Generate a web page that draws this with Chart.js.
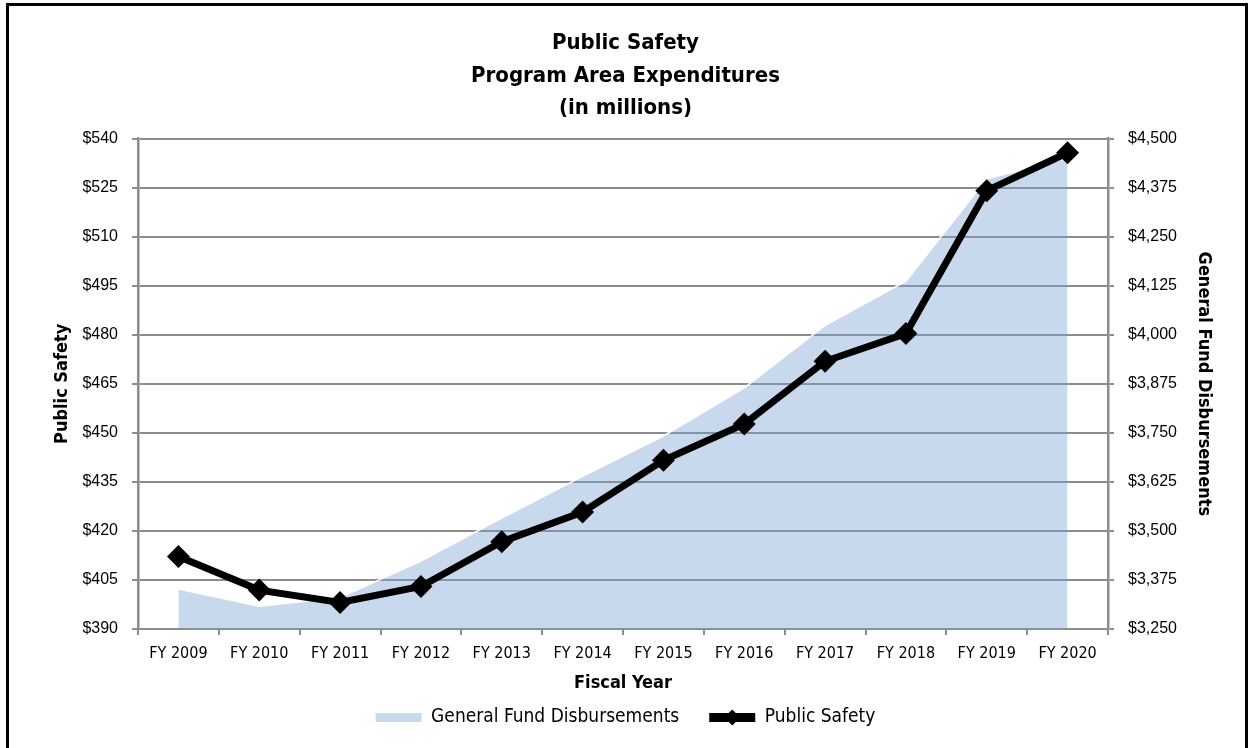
<!DOCTYPE html>
<html>
<head>
<meta charset="utf-8">
<script src="https://cdn.jsdelivr.net/npm/chart.js@4.4.1/dist/chart.umd.min.js"></script>
<style>
  html, body { margin: 0; padding: 0; background: #fff; overflow: hidden; }
  #wrap { position: relative; width: 1251px; height: 748px; }
  #frame {
    position: absolute; left: 6px; top: 3px; width: 1236px; height: 800px;
    border: 3px solid #000; pointer-events: none;
  }
</style>
</head>
<body>
<div id="wrap">
  <canvas id="psChart" width="1251" height="748"></canvas>
  <div id="frame"></div>
</div>
<script>
// ===== Data =====

const fiscalYears = ["FY 2009", "FY 2010", "FY 2011", "FY 2012", "FY 2013", "FY 2014",
                     "FY 2015", "FY 2016", "FY 2017", "FY 2018", "FY 2019", "FY 2020"];

// General Fund Disbursements, $ millions (right axis)
const generalFund = [3352, 3308, 3330, 3423, 3533, 3639, 3742, 3865, 4024, 4137, 4398, 4450];

// Public Safety, $ millions (left axis)
const publicSafety = [412.2, 401.9, 398.1, 403.0, 416.7, 425.8, 441.6, 452.7, 471.9, 480.4, 524.1, 535.7];

const titleLines = ["Public Safety", "Program Area Expenditures", "(in millions)"];

const narrow = "'Liberation Sans Narrow', 'Arial Narrow', 'DejaVu Sans Condensed', sans-serif";
const regular = "'Liberation Sans', Arial, sans-serif";
const gridGray = "#8c8c8c";
const areaFill = "rgba(120,160,210,0.40)";


// ===== Diamond on legend line =====

const legendDiamond = {
  id: "legendDiamond",
  afterDraw(chart) {
    const legend = chart.legend;
    if (!legend || !legend.legendHitBoxes) return;
    const ctx = chart.ctx;
    const boxW = legend.options.labels.boxWidth;
    legend.legendItems.forEach((item, i) => {
      if (item.datasetIndex !== 1) return;
      const hb = legend.legendHitBoxes[i];
      const cx = hb.left + boxW / 2;
      const cy = hb.top + hb.height / 2;
      ctx.save();
      ctx.fillStyle = "#000";
      ctx.beginPath();
      ctx.moveTo(cx, cy - 8);
      ctx.lineTo(cx + 8, cy);
      ctx.lineTo(cx, cy + 8);
      ctx.lineTo(cx - 8, cy);
      ctx.closePath();
      ctx.fill();
      ctx.restore();
    });
  }
};


// ===== Chart =====

const ctx = document.getElementById("psChart");

new Chart(ctx, {
  type: "line",
  data: {
    labels: fiscalYears,
    datasets: [
      {
        label: "General Fund Disbursements",
        data: generalFund,
        yAxisID: "y1",
        order: 2,
        fill: "start",
        backgroundColor: areaFill,
        borderColor: "#ffffff",
        borderWidth: 1.5,
        pointRadius: 0,
        tension: 0
      },
      {
        label: "Public Safety",
        data: publicSafety,
        yAxisID: "y",
        order: 1,
        fill: false,
        borderColor: "#000000",
        backgroundColor: "#000000",
        borderWidth: 7,
        pointStyle: "rectRot",
        pointRadius: 11.5,
        pointBackgroundColor: "#000000",
        pointBorderColor: "#000000",
        pointBorderWidth: 0,
        tension: 0
      }
    ]
  },
  options: {
    responsive: false,
    animation: false,
    layout: { padding: { top: 4, bottom: 11, left: 0, right: 0 } },
    plugins: {
      title: {
        display: true,
        text: titleLines,
        color: "#000",
        font: { family: narrow, size: 22, weight: "bold", lineHeight: 1.48 },
        padding: { top: 23, bottom: 14 }
      },
      legend: {
        position: "bottom",
        labels: {
          color: "#000",
          font: { family: narrow, size: 19 },
          boxWidth: 46,
          boxHeight: 9,
          padding: 30,
          sort: (a, b) => a.datasetIndex - b.datasetIndex,
          generateLabels(chart) {
            return chart.data.datasets.map((ds, i) => ({
              text: ds.label,
              datasetIndex: i,
              fillStyle: i === 0 ? areaFill : "#000",
              strokeStyle: i === 0 ? areaFill : "#000",
              lineWidth: 0,
              fontColor: "#000",
              hidden: false
            }));
          }
        }
      },
      tooltip: { enabled: false }
    },
    scales: {
      x: {
        offset: true,
        grid: {
          offset: true,
          drawOnChartArea: false,
          drawTicks: true,
          tickLength: 6,
          color: gridGray,
          lineWidth: 2
        },
        border: { display: true, color: gridGray, width: 2 },
        ticks: {
          color: "#000",
          font: { family: narrow, size: 16 },
          padding: 9,
          maxRotation: 0
        },
        title: {
          display: true,
          text: "Fiscal Year",
          color: "#000",
          font: { family: narrow, size: 18, weight: "bold" },
          padding: { top: 6, bottom: -16 }
        },
        afterFit(scale) { scale.height = 49; }
      },
      y: {
        position: "left",
        min: 390,
        max: 540,
        grid: {
          color: gridGray,
          lineWidth: 2,
          tickLength: 6
        },
        border: { display: true, color: gridGray, width: 2.5 },
        ticks: {
          stepSize: 15,
          color: "#000",
          font: { family: regular, size: 16 },
          padding: 14,
          callback: v => "$" + v
        },
        title: {
          display: true,
          text: "Public Safety",
          color: "#000",
          font: { family: narrow, size: 18, weight: "bold" },
          padding: { top: 52, bottom: 0 }
        },
        afterFit(scale) { scale.width = 138; }
      },
      y1: {
        position: "right",
        min: 3250,
        max: 4500,
        grid: {
          drawOnChartArea: false,
          color: gridGray,
          lineWidth: 2,
          tickLength: 6
        },
        border: { display: true, color: gridGray, width: 2.5 },
        ticks: {
          stepSize: 125,
          color: "#000",
          font: { family: regular, size: 16 },
          padding: 14,
          callback: v => "$" + v.toLocaleString("en-US")
        },
        title: {
          display: true,
          text: "General Fund Disbursements",
          color: "#000",
          font: { family: narrow, size: 18, weight: "bold" },
          padding: { top: 37, bottom: 0 }
        },
        afterFit(scale) { scale.width = 143; }
      }
    }
  },
  plugins: [legendDiamond]
});
</script>
</body>
</html>
